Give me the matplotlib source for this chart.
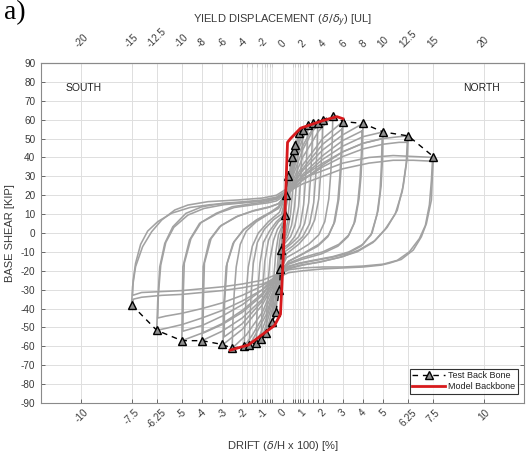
import matplotlib
matplotlib.use("Agg")
import matplotlib.pyplot as plt
from matplotlib.ticker import FixedLocator, NullFormatter

# ---------------------------------------------------------------- data
# Test backbone (peak of each cycle), drift in % and base shear in kip
backbone_drift = [-7.5, -6.25, -5.0, -4.0, -3.0, -2.5, -1.9, -1.65, -1.3, -1.05,
                  -0.8, -0.5, -0.33, -0.15, -0.1, -0.05,
                  0.1, 0.15, 0.25, 0.45, 0.55, 0.6, 0.8, 1.0, 1.25, 1.5, 1.75,
                  2.0, 2.5, 3.0, 4.0, 5.0, 6.25, 7.5]
backbone_shear = [-38, -51.5, -57, -57, -59, -61, -60, -59.5, -58, -56,
                  -53, -47, -42, -30, -19, -9,
                  9.5, 20, 30, 40, 44, 46.5, 53, 54.5, 57, 58.4, 58,
                  60, 62, 59, 58, 53.5, 51.4, 40.4]

# Model backbone
model_drift = [-2.6, -1.7, -0.4, -0.1, 0.05, 0.25, 0.4, 0.9, 2.0, 2.7, 3.0]
model_shear = [-62, -59.3, -49, -43, -10, 48, 50, 55.5, 59.5, 61.6, 60.5]

# Hysteresis cycles (drift %, base shear kip)
c75a_drift = [7.5, 7.45, 7.4, 7.15, 6.9, 6.5, 5.9, 5.3, 4.9, 4.0, 3.0, 2.0, 1.0, 0.3,
              -0.3, -1.0, -2.0, -3.0, -4.0, -5.0, -6.0, -7.0, -7.4, -7.5,
              -7.45, -7.3, -6.95, -6.5, -6.0, -5.35, -4.7, -3.7, -2.2, -1.0, -0.3,
              0.3, 1.0, 2.0, 3.0, 4.3, 5.5, 6.5, 7.5]
c75a_shear = [40, 31, 17.5, 5, -2, -9, -14, -16, -17, -18, -18.5, -19, -20, -21,
              -24, -27, -29, -30.5, -31.5, -32.5, -33, -34, -35, -38,
              -28.4, -17.8, -7.2, 0.7, 6.9, 12.2, 14.8, 16.6, 17.5, 18.5, 20,
              24, 29, 33, 37, 40, 41, 40.5, 40]

c75b_drift = [7.45, 7.4, 7.3, 7.1, 6.8, 6.3, 5.7, 5.0, 4.0, 3.0, 2.0, 1.0, 0.3,
              -0.3, -1.0, -2.0, -3.0, -4.0, -5.0, -6.0, -7.0, -7.45,
              -7.42, -7.3, -7.05, -6.7, -6.2, -5.5, -4.6, -3.6, -2.2, -1.0, -0.3,
              0.3, 1.0, 2.0, 3.0, 4.3, 5.5, 6.5, 7.45]
c75b_shear = [38, 28, 15, 4, -3, -10, -14.5, -16.5, -17.5, -18, -18, -18.5, -19.5,
              -22, -25, -27, -28.5, -29.5, -30.5, -31, -31.5, -33,
              -25, -16, -6, 1, 6, 10.5, 13.5, 15, 16, 17, 18.5,
              22, 26, 30, 34, 37, 38.5, 38.5, 38]

c625a_drift = [6.25, 6.2, 6.0, 5.7, 5.2, 4.6, 3.8, 3.0, 2.0, 1.0, 0.3,
               -0.3, -1.0, -2.0, -3.0, -4.0, -5.0, -5.8, -6.25,
               -6.2, -6.1, -5.85, -5.45, -4.8, -4.0, -3.0, -2.0, -1.0, -0.3,
               0.3, 1.0, 2.0, 3.0, 4.0, 5.0, 5.8, 6.25]
c625a_shear = [51.4, 40, 25, 12, 3, -4, -9, -12.5, -15, -17, -19,
               -24, -30, -36, -41, -45, -48.5, -50.5, -51.5,
               -36, -18, -5.5, 3.3, 10.4, 13.9, 15.7, 16.5, 17.5, 19,
               23, 30, 37, 43, 47.5, 50, 51, 51.4]

c625b_drift = [6.2, 6.15, 5.95, 5.6, 5.1, 4.5, 3.7, 2.8, 1.8, 0.9, 0.3,
               -0.3, -1.0, -2.0, -3.0, -4.0, -5.0, -5.8, -6.2,
               -6.17, -6.05, -5.8, -5.4, -4.7, -3.9, -2.9, -1.9, -0.9, -0.3,
               0.3, 1.0, 2.0, 3.0, 4.0, 5.0, 5.8, 6.2]
c625b_shear = [48, 37, 22, 10, 2, -5, -10, -13, -15.5, -17, -18.5,
               -23, -28, -33, -37, -40, -42.5, -44, -45,
               -33, -17, -5, 3, 9.5, 13, 15, 16, 17, 18,
               22, 28, 35, 40.5, 44.5, 47, 48, 48]

c5a_drift = [5.0, 4.97, 4.9, 4.75, 4.45, 4.0, 3.3, 2.5, 1.5, 0.8, 0.3,
             -0.3, -1.0, -2.0, -3.0, -4.0, -5.0,
             -4.98, -4.95, -4.62, -4.12, -3.3, -2.5, -1.5, -0.8, -0.3,
             0.3, 1.0, 2.0, 3.0, 4.0, 5.0]
c5a_shear = [53.5, 40, 25, 12, 0, -6, -10, -12.5, -14.5, -16, -18,
             -23, -32, -41, -48, -53, -57,
             -36, -18, -3.7, 5.1, 10.4, 13.9, 15.5, 16.5, 18,
             22, 30, 39, 46, 51, 53.5]

c5b_drift = [4.95, 4.92, 4.85, 4.7, 4.4, 3.9, 3.2, 2.4, 1.4, 0.7, 0.3,
             -0.3, -1.0, -2.0, -3.0, -4.0, -4.95,
             -4.93, -4.88, -4.55, -4.05, -3.2, -2.4, -1.4, -0.7, -0.3,
             0.3, 1.0, 2.0, 3.0, 4.0, 4.95]
c5b_shear = [50, 37, 22, 10, -1, -7, -11, -13, -15, -16.5, -17.5,
             -22, -30, -38, -44, -49, -52,
             -32, -16, -3, 5.5, 10.5, 13.5, 15, 16, 17,
             21, 28, 36, 43, 47.5, 50]

c4a_drift = [4.0, 3.97, 3.9, 3.8, 3.6, 3.3, 2.8, 2.0, 1.0, 0.3,
             -0.3, -1.0, -2.0, -3.0, -4.0,
             -3.98, -3.94, -3.63, -3.13, -2.3, -1.5, -0.7, -0.2,
             0.3, 1.0, 2.0, 3.0, 4.0]
c4a_shear = [58, 45, 30, 18, 6, -1, -6, -10, -13, -16,
             -23, -35, -45, -52, -57,
             -38, -17.8, -3.7, 3.3, 8.6, 11.5, 13.5, 15.5,
             22, 33, 44, 52, 58]

c4b_drift = [3.95, 3.92, 3.85, 3.74, 3.55, 3.25, 2.75, 1.95, 0.95, 0.3,
             -0.3, -1.0, -2.0, -3.0, -3.95,
             -3.93, -3.88, -3.55, -3.05, -2.2, -1.4, -0.6, -0.2,
             0.3, 1.0, 2.0, 3.0, 3.95]
c4b_shear = [54, 42, 28, 16, 5, -2, -7, -11, -14, -16.5,
             -22, -33, -42, -48.5, -53,
             -35, -16, -3, 4, 9, 12, 14, 15.5,
             21, 31, 41, 49, 54]

c3a_drift = [3.0, 2.97, 2.9, 2.8, 2.6, 2.3, 1.8, 1.0, 0.3,
             -0.3, -1.0, -2.0, -2.95,
             -2.93, -2.8, -2.46, -1.96, -1.3, -0.6, -0.2,
             0.3, 1.0, 2.0, 3.0]
c3a_shear = [59, 47, 32, 18, 6, -1, -6, -11, -15,
             -24, -38, -51, -59,
             -40, -17.8, -5.5, 1.6, 6.9, 11, 14,
             22, 36, 50, 59]

c3b_drift = [2.95, 2.92, 2.85, 2.75, 2.55, 2.25, 1.75, 0.95, 0.3,
             -0.3, -1.0, -2.0, -2.9,
             -2.88, -2.75, -2.4, -1.9, -1.25, -0.55, -0.2,
             0.3, 1.0, 2.0, 2.95]
c3b_shear = [55, 44, 30, 17, 5, -2, -7, -11.5, -15,
             -23, -36, -48, -55,
             -37, -16, -4.5, 2, 7, 11, 13.5,
             21, 34, 47, 55]

c25_drift = [2.5, 2.47, 2.4, 2.3, 2.1, 1.8, 1.3, 0.7, 0.2,
             -0.3, -1.0, -1.8, -2.5,
             -2.47, -2.4, -2.3, -2.1, -1.8, -1.3, -0.7, -0.2,
             0.3, 1.0, 1.8, 2.5]
c25_shear = [62, 48, 32, 18, 6, -1, -6, -10, -13,
             -24, -42, -54, -61,
             -48, -32, -18, -6, 1, 6, 10, 13,
             22, 40, 54, 62]

c2_drift = [2.0, 1.97, 1.9, 1.8, 1.6, 1.3, 0.8, 0.2,
            -0.3, -1.0, -1.5, -1.9,
            -1.87, -1.8, -1.7, -1.5, -1.2, -0.7, -0.15,
            0.3, 1.0, 1.5, 2.0]
c2_shear = [60, 48, 32, 18, 7, 0, -6, -11,
            -26, -45, -54, -60,
            -48, -32, -18, -7, 0, 6, 11,
            24, 44, 54, 60]

c175_drift = [1.75, 1.72, 1.65, 1.55, 1.35, 1.0, 0.5, 0.1,
              -0.3, -0.8, -1.3, -1.65,
              -1.62, -1.55, -1.45, -1.25, -0.9, -0.45, -0.05,
              0.3, 0.8, 1.3, 1.75]
c175_shear = [58, 46, 30, 16, 5, -2, -7, -10,
              -26, -43, -53, -59.5,
              -47, -30, -16, -5, 2, 7, 10,
              25, 42, 52, 58]

c15_drift = [1.5, 1.47, 1.4, 1.3, 1.1, 0.8, 0.4, 0.05,
             -0.25, -0.7, -1.0, -1.3,
             -1.28, -1.22, -1.12, -0.95, -0.65, -0.3, 0.0,
             0.25, 0.7, 1.1, 1.5]
c15_shear = [58.4, 46, 30, 16, 5, -2, -6, -9,
             -24, -42, -51, -58,
             -46, -30, -16, -5, 1, 6, 9,
             24, 42, 52, 58.4]

c125_drift = [1.25, 1.22, 1.15, 1.05, 0.88, 0.6, 0.3, 0.0,
              -0.25, -0.6, -0.85, -1.05,
              -1.03, -0.97, -0.88, -0.7, -0.45, -0.2, 0.05,
              0.25, 0.6, 0.9, 1.25]
c125_shear = [57, 45, 29, 15, 4, -2, -6, -8,
              -24, -41, -50, -56,
              -44, -28, -15, -4, 2, 6, 8,
              24, 41, 50, 57]

c1_drift = [1.0, 0.97, 0.9, 0.8, 0.62, 0.4, 0.15, -0.05,
            -0.25, -0.5, -0.8,
            -0.78, -0.72, -0.62, -0.45, -0.25, -0.05, 0.1,
            0.3, 0.6, 1.0]
c1_shear = [54.5, 43, 28, 14, 4, -2, -5, -7,
            -22, -40, -53,
            -42, -27, -14, -4, 2, 5, 7,
            23, 40, 54.5]

c08_drift = [0.8, 0.77, 0.7, 0.6, 0.45, 0.25, 0.05, -0.1, -0.3, -0.5,
             -0.48, -0.42, -0.33, -0.2, -0.05, 0.1, 0.3, 0.55, 0.8]
c08_shear = [53, 42, 27, 14, 4, -2, -5, -10, -30, -47,
             -36, -22, -10, -1, 3, 8, 24, 40, 53]

c06_drift = [0.6, 0.57, 0.5, 0.4, 0.25, 0.08, -0.08, -0.2, -0.33,
             -0.31, -0.25, -0.15, -0.03, 0.1, 0.25, 0.42, 0.6]
c06_shear = [46.5, 36, 22, 10, 1, -4, -12, -27, -42,
             -31, -17, -5, 2, 8, 22, 36, 46.5]

c045_drift = [0.45, 0.42, 0.35, 0.25, 0.12, 0.0, -0.08, -0.15,
              -0.13, -0.07, 0.02, 0.15, 0.3, 0.45]
c045_shear = [40, 30, 17, 6, -2, -10, -20, -30,
              -20, -8, 2, 14, 28, 40]

c025_drift = [0.25, 0.22, 0.15, 0.06, -0.02, -0.1, -0.08, -0.02, 0.06, 0.15, 0.25]
c025_shear = [30, 20, 9, 0, -8, -19, -10, -1, 7, 18, 30]

c015_drift = [0.15, 0.12, 0.06, 0.0, -0.05, -0.03, 0.02, 0.08, 0.15]
c015_shear = [20, 12, 4, -3, -9, -4, 2, 10, 20]

c01_drift = [0.1, 0.06, 0.01, -0.03, 0.0, 0.05, 0.1]
c01_shear = [9.5, 4, -1, -5, -1, 4, 9.5]

cycles = [
    (c01_drift, c01_shear), (c015_drift, c015_shear), (c025_drift, c025_shear),
    (c045_drift, c045_shear), (c06_drift, c06_shear), (c08_drift, c08_shear),
    (c1_drift, c1_shear), (c125_drift, c125_shear), (c15_drift, c15_shear),
    (c175_drift, c175_shear), (c2_drift, c2_shear), (c25_drift, c25_shear),
    (c3a_drift, c3a_shear), (c3b_drift, c3b_shear),
    (c4a_drift, c4a_shear), (c4b_drift, c4b_shear),
    (c5a_drift, c5a_shear), (c5b_drift, c5b_shear),
    (c625a_drift, c625a_shear), (c625b_drift, c625b_shear),
    (c75a_drift, c75a_shear), (c75b_drift, c75b_shear),
]

# Axis ticks
drift_ticks = [-10, -7.5, -6.25, -5, -4, -3, -2, -1, 0, 1, 2, 3, 4, 5, 6.25, 7.5, 10]
drift_labels = ["-10", "-7.5", "-6.25", "-5", "-4", "-3", "-2", "-1", "0",
                "1", "2", "3", "4", "5", "6.25", "7.5", "10"]
yield_ticks = [-20, -15, -12.5, -10, -8, -6, -4, -2, 0, 2, 4, 6, 8, 10, 12.5, 15, 20]
yield_labels = ["-20", "-15", "-12.5", "-10", "-8", "-6", "-4", "-2", "0",
                "2", "4", "6", "8", "10", "12.5", "15", "20"]
yield_minor = [-3.5, -3, -2.5, -1.75, -1.5, -1.25, -1, 1, 1.25, 1.5, 1.75, 2.5, 3, 3.5]
shear_ticks = list(range(-90, 100, 10))

# ---------------------------------------------------------------- figure
plt.rcParams["font.family"] = ["Liberation Sans", "DejaVu Sans"]
plt.rcParams["mathtext.fontset"] = "dejavusans"
TXT = "#3a3a3a"
TICK_FS = 7.2

fig = plt.figure(figsize=(5.26, 4.58), dpi=100)
ax = fig.add_axes([41 / 526, 55 / 458, 483 / 526, 340 / 458])

for d, s in cycles:
    ax.plot(d, s, color="#a2a2a2", lw=1.15, zorder=2, solid_joinstyle="round")

ax.plot(backbone_drift, backbone_shear, color="black", lw=1.0,
        linestyle=(0, (4, 3.5)), marker="^", markersize=6,
        markerfacecolor="#8f8f8f", markeredgecolor="black",
        markeredgewidth=1.0, zorder=4, label="Test Back Bone")
ax.plot(model_drift, model_shear, color="#d7191c", lw=2.0, zorder=5,
        label="Model Backbone")

ax.set_xlim(-12, 12)
ax.set_ylim(-90, 90)

# bottom axis: drift
ax.set_xticks(drift_ticks)
ax.set_xticklabels(drift_labels, rotation=45, ha="center", fontsize=TICK_FS, color=TXT)
ax.xaxis.set_minor_locator(FixedLocator([v / 2 for v in yield_minor]))
ax.xaxis.set_minor_formatter(NullFormatter())
ax.set_yticks(shear_ticks)
ax.set_yticklabels([str(v) for v in shear_ticks], fontsize=TICK_FS, color=TXT)
ax.tick_params(axis="both", which="both", direction="in", length=3,
               color="#555555", width=0.6, top=False, right=True)
ax.tick_params(axis="x", which="major", pad=3)
ax.tick_params(axis="y", which="major", pad=4)
ax.grid(True, which="major", color="#dedede", lw=0.7, zorder=0)
ax.grid(True, which="minor", axis="x", color="#e2e2e2", lw=0.6, zorder=0)
ax.set_axisbelow(True)
for sp in ax.spines.values():
    sp.set_color("#8a8a8a")
    sp.set_linewidth(0.8)

# top axis: yield displacement multiples (2 x drift)
top = ax.secondary_xaxis("top", functions=(lambda d: 2 * d, lambda y: y / 2))
top.set_xticks(yield_ticks)
top.set_xticklabels(yield_labels, rotation=45, ha="center", fontsize=TICK_FS, color=TXT)
top.xaxis.set_minor_locator(FixedLocator(yield_minor))
top.xaxis.set_minor_formatter(NullFormatter())
top.tick_params(axis="x", which="both", direction="in", length=3,
                color="#555555", width=0.6, pad=10)
top.spines["top"].set_color("#8a8a8a")
top.spines["top"].set_linewidth(0.8)

ax.set_xlabel(r"DRIFT ($\delta$/H x 100) [%]", fontsize=8, color=TXT, labelpad=6)
ax.set_ylabel("BASE SHEAR [KIP]", fontsize=8, color=TXT, labelpad=4)
top.set_xlabel(r"YIELD DISPLACEMENT ($\delta/\delta_y$) [UL]", fontsize=8,
               color=TXT, labelpad=2)

ax.text(-10.8, 77, "SOUTH", fontsize=7.5, color="#222222", va="center", ha="left")
ax.text(8.96, 77, "NORTH", fontsize=7.5, color="#222222", va="center", ha="left")

leg = ax.legend(loc="lower right", bbox_to_anchor=(0.988, 0.027), fontsize=6.5,
                frameon=True, fancybox=False, edgecolor="black",
                handlelength=3.6, borderpad=0.3, labelspacing=0.2,
                handletextpad=0.4, borderaxespad=0.0)
leg.get_frame().set_linewidth(0.8)
for t in leg.get_texts():
    t.set_color("#222222")

fig.text(0.008, 1.0, "a)", fontsize=20, va="top", ha="left",
         family=["Liberation Serif", "DejaVu Serif"], color="black")

fig.savefig("out.png", dpi=100)
